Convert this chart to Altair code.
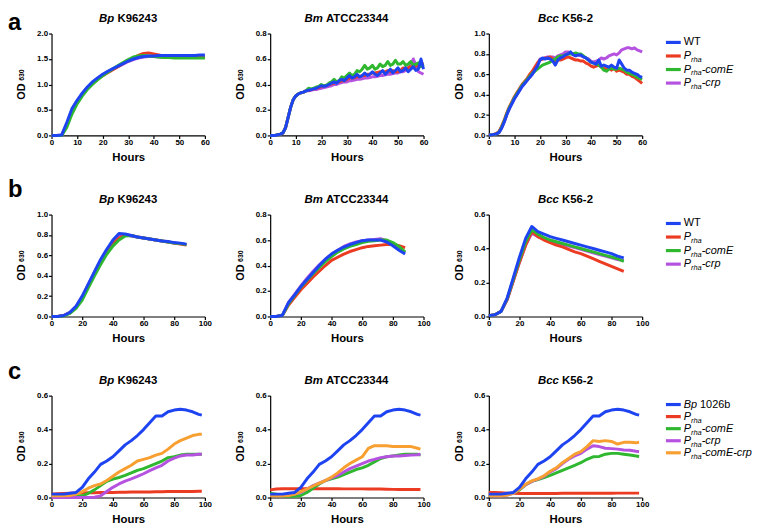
import altair as alt
import pandas as pd

FONT = "Liberation Sans"
BLUE, RED, GREEN, PURPLE, ORANGE = "#1e44f2", "#ec3b23", "#2fb82f", "#b552e0", "#f7a031"

# ---------------- data ----------------
# row a : 0-60 h
A1_HOURS = list(range(0, 61, 2))
A1_WT = [0.00, 0.00, 0.01, 0.26, 0.53, 0.69, 0.83, 0.95, 1.05, 1.13, 1.20, 1.26, 1.31, 1.36, 1.41, 1.46,
         1.50, 1.53, 1.55, 1.56, 1.56, 1.57, 1.57, 1.57, 1.57, 1.57, 1.57, 1.57, 1.57, 1.58, 1.58]
A1_RHA = [0.00, 0.00, 0.00, 0.20, 0.47, 0.65, 0.80, 0.92, 1.02, 1.10, 1.17, 1.23, 1.29, 1.35, 1.41, 1.47,
          1.52, 1.57, 1.61, 1.62, 1.60, 1.58, 1.55, 1.54, 1.53, 1.53, 1.53, 1.53, 1.53, 1.53, 1.53]
A1_COME = [0.00, 0.00, 0.00, 0.16, 0.42, 0.62, 0.77, 0.90, 1.00, 1.09, 1.17, 1.24, 1.31, 1.37, 1.43, 1.49,
           1.54, 1.56, 1.57, 1.56, 1.55, 1.54, 1.53, 1.53, 1.52, 1.52, 1.52, 1.52, 1.52, 1.52, 1.52]
A1_CRP = [0.00, 0.00, 0.01, 0.23, 0.50, 0.67, 0.82, 0.94, 1.04, 1.12, 1.19, 1.25, 1.30, 1.35, 1.40, 1.45,
          1.49, 1.52, 1.54, 1.55, 1.55, 1.54, 1.53, 1.53, 1.54, 1.54, 1.54, 1.54, 1.54, 1.54, 1.55]

A_HOURS = list(range(0, 61))
A2_EARLY = [0.0, 0.0, 0.0, 0.005, 0.01, 0.02, 0.06, 0.14, 0.22, 0.28, 0.31, 0.325, 0.335, 0.34, 0.35]
A2_WT = A2_EARLY + [0.355, 0.36, 0.365, 0.37, 0.38, 0.39, 0.385, 0.39, 0.40, 0.41, 0.42, 0.41, 0.43, 0.44, 0.43,
                    0.45, 0.47, 0.45, 0.46, 0.48, 0.46, 0.47, 0.49, 0.47, 0.48, 0.50, 0.48, 0.47, 0.49, 0.51,
                    0.48, 0.50, 0.52, 0.49, 0.51, 0.53, 0.50, 0.51, 0.53, 0.50, 0.52, 0.54, 0.51, 0.52, 0.60, 0.52]
A2_RHA = A2_EARLY + [0.355, 0.36, 0.365, 0.37, 0.375, 0.385, 0.39, 0.39, 0.40, 0.405, 0.41, 0.42, 0.42, 0.43, 0.43,
                     0.44, 0.45, 0.45, 0.455, 0.46, 0.46, 0.47, 0.47, 0.48, 0.48, 0.49, 0.49, 0.495, 0.50, 0.50,
                     0.50, 0.51, 0.50, 0.51, 0.50, 0.50, 0.51, 0.53, 0.52, 0.53, 0.54, 0.53, 0.55, 0.54, 0.56, 0.57]
A2_COME = A2_EARLY + [0.37, 0.365, 0.37, 0.38, 0.385, 0.40, 0.39, 0.395, 0.41, 0.42, 0.44, 0.42, 0.43, 0.46, 0.45,
                      0.47, 0.49, 0.47, 0.48, 0.51, 0.50, 0.52, 0.55, 0.52, 0.53, 0.55, 0.52, 0.53, 0.56, 0.54,
                      0.55, 0.58, 0.55, 0.56, 0.59, 0.56, 0.56, 0.58, 0.55, 0.56, 0.58, 0.55, 0.56, 0.57, 0.54, 0.56]
A2_CRP = A2_EARLY + [0.35, 0.355, 0.36, 0.36, 0.365, 0.37, 0.375, 0.38, 0.385, 0.39, 0.40, 0.40, 0.41, 0.415, 0.42,
                     0.42, 0.43, 0.43, 0.435, 0.44, 0.44, 0.445, 0.45, 0.45, 0.455, 0.46, 0.46, 0.465, 0.47, 0.47,
                     0.475, 0.48, 0.48, 0.485, 0.49, 0.49, 0.50, 0.50, 0.51, 0.53, 0.55, 0.60, 0.55, 0.50, 0.49, 0.48]

A3_WT = [0.005, 0.005, 0.01, 0.015, 0.03, 0.07, 0.13, 0.20, 0.26, 0.31,
         0.36, 0.40, 0.44, 0.48, 0.51, 0.54, 0.57, 0.60, 0.64, 0.68,
         0.74, 0.76, 0.75, 0.76, 0.75, 0.73, 0.69, 0.74, 0.76, 0.77,
         0.79, 0.80, 0.82, 0.79, 0.78, 0.79, 0.79, 0.77, 0.76, 0.74,
         0.72, 0.71, 0.70, 0.74, 0.68, 0.69, 0.68, 0.67, 0.69, 0.67,
         0.66, 0.74, 0.70, 0.66, 0.64, 0.64, 0.62, 0.61, 0.60, 0.58, 0.57]
A3_RHA = [0.005, 0.005, 0.01, 0.02, 0.04, 0.09, 0.15, 0.22, 0.28, 0.33,
          0.38, 0.42, 0.46, 0.50, 0.53, 0.56, 0.60, 0.63, 0.67, 0.71,
          0.74, 0.75, 0.76, 0.76, 0.77, 0.75, 0.73, 0.74, 0.74, 0.75,
          0.76, 0.77, 0.76, 0.75, 0.74, 0.74, 0.73, 0.73, 0.71, 0.70,
          0.68, 0.67, 0.68, 0.69, 0.67, 0.66, 0.65, 0.66, 0.64, 0.66,
          0.63, 0.64, 0.63, 0.62, 0.60, 0.60, 0.58, 0.57, 0.55, 0.53, 0.51]
A3_COME = [0.005, 0.005, 0.01, 0.015, 0.03, 0.08, 0.14, 0.21, 0.27, 0.32,
           0.37, 0.41, 0.45, 0.49, 0.52, 0.55, 0.58, 0.61, 0.63, 0.65,
           0.67, 0.69, 0.70, 0.71, 0.72, 0.74, 0.75, 0.77, 0.78, 0.78,
           0.79, 0.80, 0.80, 0.80, 0.81, 0.80, 0.80, 0.78, 0.76, 0.74,
           0.72, 0.71, 0.70, 0.69, 0.67, 0.64, 0.63, 0.65, 0.66, 0.65,
           0.65, 0.66, 0.65, 0.64, 0.62, 0.61, 0.60, 0.59, 0.57, 0.56, 0.55]
A3_CRP = [0.005, 0.005, 0.01, 0.015, 0.03, 0.07, 0.13, 0.20, 0.26, 0.31,
          0.36, 0.40, 0.44, 0.48, 0.51, 0.54, 0.57, 0.60, 0.64, 0.68,
          0.75, 0.75, 0.76, 0.77, 0.77, 0.77, 0.76, 0.78, 0.79, 0.80,
          0.82, 0.82, 0.81, 0.80, 0.79, 0.79, 0.78, 0.77, 0.76, 0.75,
          0.73, 0.72, 0.73, 0.74, 0.76, 0.75, 0.76, 0.78, 0.79, 0.80,
          0.79, 0.81, 0.84, 0.85, 0.86, 0.86, 0.85, 0.86, 0.84, 0.83, 0.82]

# row b : 0-88 h
B_HOURS = list(range(0, 89, 4))
B1_WT = [0.00, 0.00, 0.01, 0.04, 0.10, 0.20, 0.32, 0.44, 0.56, 0.66, 0.75, 0.815,
         0.81, 0.795, 0.78, 0.77, 0.76, 0.75, 0.74, 0.735, 0.725, 0.72, 0.71]
B1_RHA = [0.00, 0.00, 0.01, 0.035, 0.09, 0.18, 0.30, 0.42, 0.53, 0.63, 0.71, 0.77,
          0.80, 0.795, 0.78, 0.77, 0.76, 0.75, 0.74, 0.73, 0.72, 0.71, 0.70]
B1_COME = [0.00, 0.00, 0.005, 0.03, 0.08, 0.16, 0.28, 0.40, 0.51, 0.61, 0.69, 0.75,
           0.79, 0.795, 0.78, 0.77, 0.76, 0.75, 0.74, 0.73, 0.72, 0.715, 0.705]
B1_CRP = [0.00, 0.00, 0.01, 0.04, 0.10, 0.195, 0.315, 0.435, 0.55, 0.65, 0.735, 0.80,
          0.805, 0.79, 0.78, 0.77, 0.76, 0.75, 0.74, 0.73, 0.72, 0.715, 0.705]
B2_WT = [0.00, 0.00, 0.01, 0.11, 0.17, 0.235, 0.29, 0.345, 0.40, 0.45, 0.49, 0.52,
         0.545, 0.565, 0.58, 0.595, 0.60, 0.60, 0.60, 0.585, 0.555, 0.52, 0.49]
B2_RHA = [0.00, 0.00, 0.01, 0.09, 0.15, 0.21, 0.26, 0.31, 0.355, 0.40, 0.44, 0.465,
          0.49, 0.51, 0.525, 0.54, 0.55, 0.555, 0.56, 0.565, 0.565, 0.555, 0.54]
B2_COME = [0.00, 0.00, 0.01, 0.10, 0.165, 0.23, 0.285, 0.335, 0.385, 0.43, 0.47, 0.505,
           0.53, 0.55, 0.565, 0.58, 0.59, 0.595, 0.60, 0.60, 0.58, 0.55, 0.505]
B2_CRP = [0.00, 0.00, 0.01, 0.11, 0.175, 0.24, 0.30, 0.355, 0.405, 0.45, 0.49, 0.52,
          0.55, 0.57, 0.585, 0.595, 0.60, 0.605, 0.61, 0.595, 0.57, 0.535, 0.50]
B3_WT = [0.005, 0.01, 0.03, 0.11, 0.23, 0.35, 0.46, 0.53, 0.50, 0.485, 0.47, 0.46,
         0.45, 0.44, 0.43, 0.42, 0.41, 0.40, 0.39, 0.38, 0.37, 0.355, 0.345]
B3_RHA = [0.005, 0.01, 0.03, 0.10, 0.21, 0.32, 0.42, 0.50, 0.47, 0.45, 0.435, 0.42,
          0.41, 0.395, 0.38, 0.37, 0.355, 0.34, 0.325, 0.31, 0.295, 0.28, 0.265]
B3_COME = [0.005, 0.01, 0.03, 0.105, 0.22, 0.335, 0.44, 0.51, 0.485, 0.465, 0.45, 0.44,
           0.43, 0.42, 0.41, 0.40, 0.39, 0.38, 0.37, 0.36, 0.35, 0.34, 0.325]
B3_CRP = [0.005, 0.01, 0.03, 0.10, 0.21, 0.32, 0.42, 0.49, 0.47, 0.455, 0.445, 0.435,
          0.425, 0.415, 0.405, 0.395, 0.385, 0.375, 0.365, 0.355, 0.345, 0.335, 0.33]

# row c : 0-98 h
C_HOURS = [0, 4, 8, 12, 16, 20, 24, 28, 32, 36, 40, 44, 48, 52, 56, 60, 64, 68, 72, 76, 80, 84, 88, 92, 96, 98]
C_BP = [0.02, 0.02, 0.02, 0.025, 0.03, 0.06, 0.11, 0.15, 0.195, 0.215, 0.24, 0.275, 0.31,
        0.335, 0.365, 0.40, 0.44, 0.48, 0.48, 0.505, 0.515, 0.52, 0.515, 0.505, 0.49, 0.485]
C1_RHA = [0.02, 0.022, 0.024, 0.025, 0.026, 0.027, 0.028, 0.028, 0.029, 0.03, 0.03, 0.031, 0.031,
          0.032, 0.032, 0.033, 0.033, 0.034, 0.034, 0.035, 0.035, 0.036, 0.036, 0.036, 0.037, 0.037]
C1_COME = [0.005, 0.005, 0.005, 0.005, 0.007, 0.01, 0.025, 0.045, 0.07, 0.095, 0.108, 0.118, 0.13,
           0.145, 0.16, 0.17, 0.185, 0.20, 0.215, 0.235, 0.24, 0.25, 0.255, 0.255, 0.255, 0.255]
C1_CRP = [0.0, 0.0, 0.0, 0.0, 0.0, 0.0, 0.0, 0.002, 0.01, 0.035, 0.06, 0.08, 0.097,
          0.11, 0.124, 0.14, 0.158, 0.175, 0.19, 0.215, 0.232, 0.245, 0.25, 0.25, 0.255, 0.255]
C1_CC = [0.01, 0.01, 0.01, 0.012, 0.02, 0.035, 0.055, 0.07, 0.08, 0.10, 0.125, 0.15, 0.17,
         0.19, 0.215, 0.225, 0.235, 0.25, 0.26, 0.285, 0.315, 0.335, 0.35, 0.365, 0.372, 0.372]
C2_RHA = [0.045, 0.05, 0.052, 0.052, 0.052, 0.052, 0.052, 0.052, 0.052, 0.052, 0.052, 0.052, 0.051,
          0.051, 0.051, 0.051, 0.05, 0.05, 0.05, 0.049, 0.048, 0.047, 0.047, 0.047, 0.047, 0.047]
C2_COME = [0.025, 0.02, 0.01, 0.008, 0.008, 0.012, 0.03, 0.055, 0.08, 0.10, 0.11, 0.12, 0.135,
           0.15, 0.165, 0.175, 0.19, 0.21, 0.23, 0.24, 0.245, 0.25, 0.255, 0.255, 0.255, 0.25]
C2_CRP = [0.012, 0.012, 0.012, 0.015, 0.02, 0.03, 0.05, 0.07, 0.085, 0.10, 0.115, 0.13, 0.15,
          0.17, 0.185, 0.20, 0.215, 0.225, 0.235, 0.24, 0.245, 0.245, 0.248, 0.25, 0.252, 0.255]
C2_CC = [0.01, 0.01, 0.01, 0.012, 0.02, 0.035, 0.05, 0.068, 0.085, 0.10, 0.12, 0.145, 0.175,
         0.20, 0.22, 0.24, 0.29, 0.305, 0.305, 0.305, 0.30, 0.30, 0.30, 0.30, 0.29, 0.285]
C3_RHA = [0.03, 0.03, 0.028, 0.026, 0.025, 0.024, 0.024, 0.024, 0.024, 0.024, 0.024, 0.024, 0.025,
          0.025, 0.025, 0.025, 0.025, 0.025, 0.025, 0.025, 0.025, 0.026, 0.026, 0.026, 0.026, 0.026]
C3_COME = [0.01, 0.012, 0.015, 0.02, 0.025, 0.045, 0.075, 0.095, 0.106, 0.118, 0.13, 0.145, 0.16,
           0.175, 0.19, 0.205, 0.225, 0.24, 0.242, 0.255, 0.26, 0.26, 0.255, 0.25, 0.245, 0.242]
C3_CRP = [0.01, 0.01, 0.01, 0.015, 0.025, 0.05, 0.075, 0.095, 0.108, 0.125, 0.15, 0.17, 0.20,
          0.225, 0.245, 0.26, 0.285, 0.305, 0.30, 0.29, 0.288, 0.285, 0.28, 0.278, 0.272, 0.27]
C3_CC = [0.01, 0.01, 0.01, 0.015, 0.025, 0.05, 0.078, 0.098, 0.11, 0.128, 0.155, 0.175, 0.205,
         0.23, 0.255, 0.27, 0.30, 0.335, 0.33, 0.335, 0.33, 0.315, 0.325, 0.325, 0.322, 0.325]

# titles and ticks
TITLES_ITALIC = ["Bp", "Bm", "Bcc"]
TITLES_REST = ["K96243", "ATCC23344", "K56-2"]
ROW_LETTERS = ["a", "b", "c"]
A_XTICKS = [0, 10, 20, 30, 40, 50, 60]
BC_XTICKS = [0, 20, 40, 60, 80, 100]
A_YTICKS = [[0.0, 0.5, 1.0, 1.5, 2.0], [0.0, 0.2, 0.4, 0.6, 0.8], [0.0, 0.2, 0.4, 0.6, 0.8, 1.0]]
B_YTICKS = [[0.0, 0.2, 0.4, 0.6, 0.8, 1.0], [0.0, 0.2, 0.4, 0.6, 0.8], [0.0, 0.2, 0.4, 0.6]]
C_YTICKS = [[0.0, 0.2, 0.4, 0.6], [0.0, 0.2, 0.4, 0.6], [0.0, 0.2, 0.4, 0.6]]

# legend
LEG_AB_KEYS = ["WT", "Prha", "comE", "crp"]
LEG_AB_MAIN = ["WT", "P", "P", "P"]
LEG_AB_SUB = ["", "rha", "rha", "rha"]
LEG_AB_TAIL = ["", "", "-comE", "-crp"]
LEG_C_KEYS = ["Bp", "Prha", "comE", "crp", "comEcrp"]
LEG_C_MAIN = ["Bp", "P", "P", "P", "P"]
LEG_C_SUB = ["", "rha", "rha", "rha", "rha"]
LEG_C_TAIL = [" 1026b", "", "-comE", "-crp", "-comE-crp"]

SERIES_KEYS = ["WT", "Bp", "Prha", "comE", "crp", "comEcrp"]
SERIES_COLORS = [BLUE, BLUE, RED, GREEN, PURPLE, ORANGE]
COLORS = dict(zip(SERIES_KEYS, SERIES_COLORS))

# ---------------- layout helpers ----------------
PW, PH = 155, 103
HSPACE, VSPACE = 66, 80
DUMMY = pd.DataFrame({"k": [0]})

HB = {"B": 722, "p": 611, "m": 889, "c": 556, "K": 722, "A": 722, "T": 611, "C": 722, "-": 333, " ": 278,
      "O": 778, "D": 722}
HR = {"P": 667, "r": 333, "h": 556, "a": 556, "-": 333, "c": 500, "o": 556, "m": 833, "E": 667, "p": 556,
      "W": 944, "T": 611, "B": 667, "b": 556, " ": 278}


def tw(s, size, table):
    return sum(table.get(ch, 556) for ch in s) * size / 1000.0


def txt(text, x, y, size, weight="normal", style="normal", align="left", baseline="middle", angle=0):
    kw = dict(text=text, font=FONT, fontSize=size, fontWeight=weight, fontStyle=style, align=align,
              baseline=baseline, color="black")
    if angle:
        kw["angle"] = angle
    return alt.Chart(DUMMY).mark_text(**kw).encode(x=alt.value(x), y=alt.value(y))


def title_layers(it, rest):
    s = 11.5
    wi, ws, wr = tw(it, s, HB), tw(" ", s, HB), tw(rest, s, HB)
    left = PW / 2 - (wi + ws + wr) / 2
    return [txt(it, left, -15, s, "bold", "italic"), txt(rest, left + wi + ws, -15, s, "bold")]


def ytitle_layers():
    cy = PH / 2
    w_od, gap, w_n = tw("OD", 11, HB), 2.5, tw("630", 7, HB)
    top_od = cy - (w_od + gap + w_n) / 2 + w_n + gap
    return [txt("OD", -29.5, top_od, 11, "bold", align="right", angle=270),
            txt("630", -29.5, top_od - gap, 7, "bold", align="left", angle=270)]


def legend_layers(keys, mains, subs, tails, y0, step):
    out = []
    xl0, xl1, xt = 179, 194, 197
    fs, ss = 11, 7.5
    for i, k in enumerate(keys):
        y = y0 + i * step
        out.append(alt.Chart(DUMMY).mark_rule(color=COLORS[k], strokeWidth=3.2).encode(
            x=alt.value(xl0), x2=alt.value(xl1), y=alt.value(y)))
        main, sub, tail = mains[i], subs[i], tails[i]
        out.append(txt(main, xt, y, fs, style="normal" if main == "WT" else "italic"))
        x = xt + tw(main, fs, HR)
        if sub:
            out.append(txt(sub, x, y + 4, ss, style="italic"))
            x += tw(sub, ss, HR)
        if tail:
            if tail.startswith(" "):
                x += tw(" ", fs, HR)
                out.append(txt(tail.strip(), x, y, fs))
            else:
                out.append(txt(tail, x, y, fs, style="italic"))
    return out


def panel(hours, series, xticks, yticks, col, extra):
    xenc = alt.X("hours:Q", scale=alt.Scale(domain=[0, xticks[-1]], nice=False, zero=False),
                 axis=alt.Axis(values=xticks, title="Hours", labelFlush=False, format="d"))
    yenc = alt.Y("od:Q", scale=alt.Scale(domain=[0, yticks[-1]], nice=False),
                 axis=alt.Axis(values=yticks, format=".1f", title=None))
    cenc = alt.Color("series:N", scale=alt.Scale(domain=SERIES_KEYS, range=SERIES_COLORS), legend=None)
    layers = []
    for k, vals in series.items():
        df = pd.DataFrame({"hours": hours, "od": vals, "series": k})
        layers.append(alt.Chart(df).mark_line(strokeWidth=3, strokeJoin="round").encode(
            x=xenc, y=yenc, color=cenc))
    layers += title_layers(TITLES_ITALIC[col], TITLES_REST[col])
    layers += ytitle_layers()
    layers += extra
    return alt.layer(*layers).properties(width=PW, height=PH).resolve_scale(x="shared", y="shared")


panels = [
    panel(A1_HOURS, {"crp": A1_CRP, "Prha": A1_RHA, "comE": A1_COME, "WT": A1_WT}, A_XTICKS, A_YTICKS[0], 0,
          [txt(ROW_LETTERS[0], -44, -4, 24, "bold", baseline="alphabetic")]),
    panel(A_HOURS, {"crp": A2_CRP, "Prha": A2_RHA, "comE": A2_COME, "WT": A2_WT}, A_XTICKS, A_YTICKS[1], 1, []),
    panel(A_HOURS, {"crp": A3_CRP, "Prha": A3_RHA, "comE": A3_COME, "WT": A3_WT}, A_XTICKS, A_YTICKS[2], 2,
          legend_layers(LEG_AB_KEYS, LEG_AB_MAIN, LEG_AB_SUB, LEG_AB_TAIL, 9, 13.7)),
    panel(B_HOURS, {"crp": B1_CRP, "Prha": B1_RHA, "comE": B1_COME, "WT": B1_WT}, BC_XTICKS, B_YTICKS[0], 0,
          [txt(ROW_LETTERS[1], -44, -18, 24, "bold", baseline="alphabetic")]),
    panel(B_HOURS, {"crp": B2_CRP, "Prha": B2_RHA, "comE": B2_COME, "WT": B2_WT}, BC_XTICKS, B_YTICKS[1], 1, []),
    panel(B_HOURS, {"crp": B3_CRP, "Prha": B3_RHA, "comE": B3_COME, "WT": B3_WT}, BC_XTICKS, B_YTICKS[2], 2,
          legend_layers(LEG_AB_KEYS, LEG_AB_MAIN, LEG_AB_SUB, LEG_AB_TAIL, 9, 13.7)),
    panel(C_HOURS, {"Prha": C1_RHA, "comE": C1_COME, "crp": C1_CRP, "comEcrp": C1_CC, "Bp": C_BP},
          BC_XTICKS, C_YTICKS[0], 0, [txt(ROW_LETTERS[2], -44, -17, 24, "bold", baseline="alphabetic")]),
    panel(C_HOURS, {"Prha": C2_RHA, "comE": C2_COME, "crp": C2_CRP, "comEcrp": C2_CC, "Bp": C_BP},
          BC_XTICKS, C_YTICKS[1], 1, []),
    panel(C_HOURS, {"Prha": C3_RHA, "comE": C3_COME, "crp": C3_CRP, "comEcrp": C3_CC, "Bp": C_BP},
          BC_XTICKS, C_YTICKS[2], 2,
          legend_layers(LEG_C_KEYS, LEG_C_MAIN, LEG_C_SUB, LEG_C_TAIL, 9, 12.2)),
]

chart = (
    alt.concat(*panels, columns=3, spacing={"row": VSPACE, "column": HSPACE}, bounds="flush")
    .resolve_scale(x="independent", y="independent")
    .properties(padding=0, background="white")
    .configure_view(stroke=None)
    .configure_axis(domainColor="black", domainWidth=1.2, tickColor="black", tickWidth=1.2, tickSize=3,
                    labelFont=FONT, labelFontSize=8, labelFontWeight="bold", labelColor="black", labelPadding=1,
                    titleFont=FONT, titleFontSize=11.5, titleFontWeight="bold", titleColor="black",
                    titlePadding=5, grid=False)
    .configure_axisX(labelPadding=0)
)
chart.save("out.html", embed_options={"renderer": "svg", "actions": False})
